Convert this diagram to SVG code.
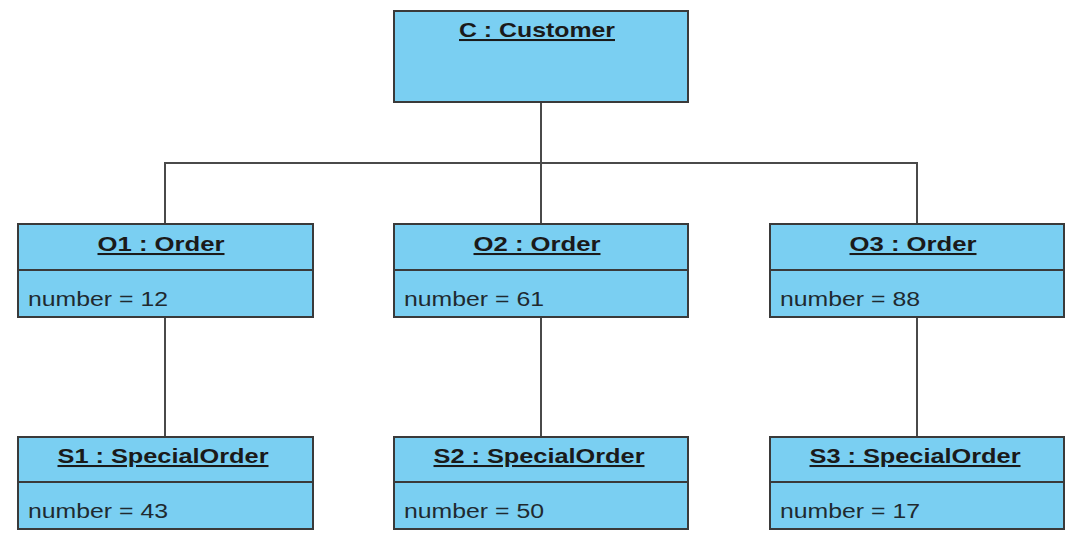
<svg xmlns="http://www.w3.org/2000/svg" width="1076" height="533" viewBox="0 0 1076 533">
  <style>
    .box { fill: #7acff2; stroke: #3a3a3a; stroke-width: 2; }
    .div { stroke: #3a3a3a; stroke-width: 2; }
    .link { stroke: #4a4a4a; stroke-width: 2; fill: none; }
    .title { font-family: "Liberation Sans", Arial, sans-serif; font-size: 20.5px; font-weight: bold; text-decoration: underline; fill: #1a1a1a; text-anchor: middle; }
    .attr { font-family: "Liberation Sans", Arial, sans-serif; font-size: 20px; fill: #1f2a30; }
  </style>
  <rect width="1076" height="533" fill="#ffffff"/>

  <g id="connectors">
    <line class="link" x1="541" y1="102" x2="541" y2="224"/>
    <polyline class="link" points="165,224 165,163 917,163 917,224"/>
    <line class="link" x1="165" y1="317" x2="165" y2="437"/>
    <line class="link" x1="541" y1="317" x2="541" y2="437"/>
    <line class="link" x1="917" y1="317" x2="917" y2="437"/>
  </g>

  <g id="customer">
    <rect class="box" x="394" y="11" width="294" height="91"/>
    <text class="title" x="537" y="37" textLength="156" lengthAdjust="spacingAndGlyphs">C : Customer</text>
  </g>

  <g id="order1">
    <rect class="box" x="18" y="224" width="295" height="93"/>
    <line class="div" x1="18" y1="270" x2="313" y2="270"/>
    <text class="title" x="161" y="251" textLength="127" lengthAdjust="spacingAndGlyphs">O1 : Order</text>
    <text class="attr" x="28" y="306" textLength="140" lengthAdjust="spacingAndGlyphs">number = 12</text>
  </g>

  <g id="order2">
    <rect class="box" x="394" y="224" width="294" height="93"/>
    <line class="div" x1="394" y1="270" x2="688" y2="270"/>
    <text class="title" x="537" y="251" textLength="127" lengthAdjust="spacingAndGlyphs">O2 : Order</text>
    <text class="attr" x="404" y="306" textLength="140" lengthAdjust="spacingAndGlyphs">number = 61</text>
  </g>

  <g id="order3">
    <rect class="box" x="770" y="224" width="294" height="93"/>
    <line class="div" x1="770" y1="270" x2="1064" y2="270"/>
    <text class="title" x="913" y="251" textLength="127" lengthAdjust="spacingAndGlyphs">O3 : Order</text>
    <text class="attr" x="780" y="306" textLength="140" lengthAdjust="spacingAndGlyphs">number = 88</text>
  </g>

  <g id="special1">
    <rect class="box" x="18" y="437" width="295" height="92"/>
    <line class="div" x1="18" y1="482" x2="313" y2="482"/>
    <text class="title" x="163" y="463" textLength="211" lengthAdjust="spacingAndGlyphs">S1 : SpecialOrder</text>
    <text class="attr" x="28" y="518" textLength="140" lengthAdjust="spacingAndGlyphs">number = 43</text>
  </g>

  <g id="special2">
    <rect class="box" x="394" y="437" width="294" height="92"/>
    <line class="div" x1="394" y1="482" x2="688" y2="482"/>
    <text class="title" x="539" y="463" textLength="211" lengthAdjust="spacingAndGlyphs">S2 : SpecialOrder</text>
    <text class="attr" x="404" y="518" textLength="140" lengthAdjust="spacingAndGlyphs">number = 50</text>
  </g>

  <g id="special3">
    <rect class="box" x="770" y="437" width="294" height="92"/>
    <line class="div" x1="770" y1="482" x2="1064" y2="482"/>
    <text class="title" x="915" y="463" textLength="211" lengthAdjust="spacingAndGlyphs">S3 : SpecialOrder</text>
    <text class="attr" x="780" y="518" textLength="140" lengthAdjust="spacingAndGlyphs">number = 17</text>
  </g>
</svg>
